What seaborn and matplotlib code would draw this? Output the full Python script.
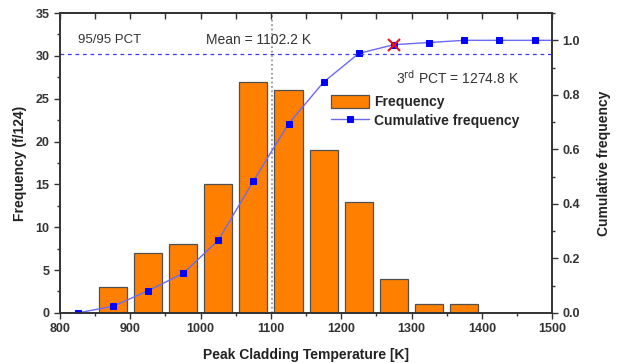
import numpy as np
import seaborn as sns
import matplotlib.pyplot as plt
from matplotlib.ticker import MultipleLocator

# histogram of peak cladding temperature (124 samples)
bin_centers = [875, 925, 975, 1025, 1075, 1125, 1175, 1225, 1275, 1325, 1375]
frequency = [3, 7, 8, 15, 27, 26, 19, 13, 4, 1, 1]

cum_x = [825, 875, 925, 975, 1025, 1075, 1125, 1175, 1225, 1275, 1325, 1375, 1425, 1475, 1525]
cum_y = [0.0, 0.024, 0.081, 0.145, 0.266, 0.484, 0.694, 0.847, 0.952, 0.984, 0.992, 1.0, 1.0, 1.0, 1.0]

mean_pct = 1102.2
pct_3rd = 1274.8
pct_3rd_cum = 0.984
level_9595 = 0.95

sns.set_style("ticks")
plt.rcParams['font.family'] = ['Liberation Sans', 'DejaVu Sans']

fig = plt.figure(figsize=(6.19, 3.63), dpi=100)
ax = fig.add_axes([0.097, 0.138, 0.795, 0.826])

sns.barplot(x=bin_centers, y=frequency, native_scale=True, width=0.8,
            color="#FF8000", saturation=1, edgecolor="#505050", linewidth=0.9,
            ax=ax, label="Frequency")
if ax.get_legend():
    ax.get_legend().remove()
ax.set_xlim(800, 1500)
ax.set_ylim(0, 35)
ax.axvline(mean_pct, color="#888888", linestyle=":", linewidth=1.2, zorder=0)

ax2 = ax.twinx()
sns.lineplot(x=cum_x, y=cum_y, ax=ax2, color="#6A6AF5", linewidth=1,
             marker="s", markersize=5, markerfacecolor="#0000FF",
             markeredgecolor="#0000FF", label="Cumulative frequency")
ax2.plot([pct_3rd], [pct_3rd_cum], marker="x", color="#E8101A",
         markersize=9, markeredgewidth=1.5, zorder=5)
ax2.axhline(level_9595, color="#3A3AF0", linestyle="--", linewidth=0.9, dashes=(3, 3))
ax2.set_ylim(0, 1.1)
ax2.set_xlim(800, 1500)

# annotations
ax.text(826, 31.9, "95/95 PCT", fontsize=9.5, color="#333333", va="center")
ax.text(1082, 31.9, "Mean = 1102.2 K", fontsize=10, color="#333333", ha="center", va="center")
ax.text(1278, 27.5, "3$^{\\rm rd}$ PCT = 1274.8 K", fontsize=10, color="#333333", va="center")

# axes styling
for a in (ax, ax2):
    for s in a.spines.values():
        s.set_linewidth(1.2)
        s.set_color("#333333")
ax.xaxis.set_major_locator(MultipleLocator(100))
ax.xaxis.set_minor_locator(MultipleLocator(50))
ax.yaxis.set_major_locator(MultipleLocator(5))
ax.yaxis.set_minor_locator(MultipleLocator(2.5))
ax2.yaxis.set_major_locator(MultipleLocator(0.2))
ax2.yaxis.set_minor_locator(MultipleLocator(0.1))
ax.tick_params(axis="both", which="both", labelsize=9, width=1, colors="#333333")
ax.tick_params(which="major", length=4)
ax.tick_params(which="minor", length=2.5)
ax2.tick_params(axis="y", which="both", labelsize=9, width=1, colors="#333333")
ax2.tick_params(which="major", length=4)
ax2.tick_params(which="minor", length=2.5)
for lab in ax.get_xticklabels() + ax.get_yticklabels() + ax2.get_yticklabels():
    lab.set_fontweight("bold")

# inward ticks along the top
top = ax.secondary_xaxis("top")
top.xaxis.set_major_locator(MultipleLocator(100))
top.xaxis.set_minor_locator(MultipleLocator(50))
top.tick_params(which="both", direction="in", labeltop=False, width=1, colors="#333333")
top.tick_params(which="major", length=4)
top.tick_params(which="minor", length=4)
top.spines["top"].set_linewidth(1.2)
top.spines["top"].set_color("#333333")

ax.set_xlabel("Peak Cladding Temperature [K]", fontsize=10, fontweight="bold", color="#222222", labelpad=9)
ax.set_ylabel("Frequency (f/124)", fontsize=10, fontweight="bold", color="#222222", labelpad=6)
ax2.set_ylabel("Cumulative frequency", fontsize=10, fontweight="bold", color="#222222", labelpad=12)

h1, l1 = ax.get_legend_handles_labels()
h2, l2 = ax2.get_legend_handles_labels()
if ax2.get_legend():
    ax2.get_legend().remove()
ax2.legend(h1 + h2, l1 + l2, loc="upper left", bbox_to_anchor=(0.54, 0.745),
           frameon=False, prop={"weight": "bold", "size": 10},
           handlelength=2.7, handleheight=1.1, labelspacing=0.3,
           handletextpad=0.4, borderaxespad=0)

fig.savefig("out.png", dpi=100)
